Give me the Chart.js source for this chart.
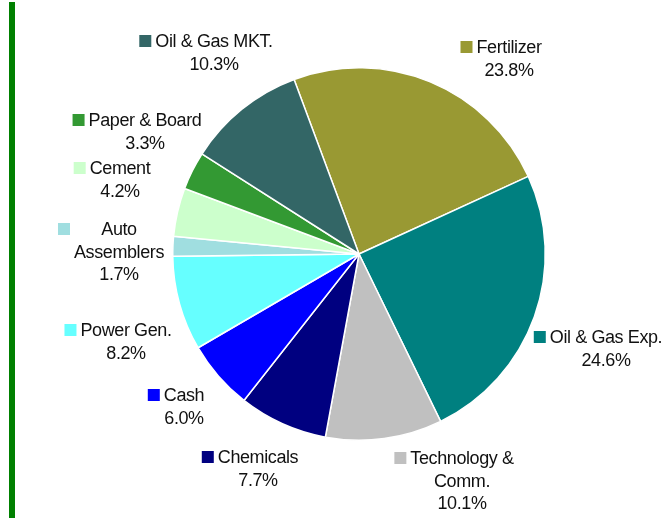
<!DOCTYPE html>
<html>
<head>
<meta charset="utf-8">
<script src="https://cdn.jsdelivr.net/npm/chart.js@4.4.1/dist/chart.umd.min.js"></script>
<style>
  html, body { margin: 0; padding: 0; background: #fff; }
  #wrap { position: relative; width: 664px; height: 518px; }
  #rule { position: absolute; left: 9px; top: 2px; width: 6px; bottom: 0; background: #008000; }
  canvas { position: absolute; left: 0; top: 0; }
</style>
</head>
<body>
<div id="wrap">
  <div id="rule"></div>
  <canvas id="pie" width="664" height="518"></canvas>
</div>
<script>
// Sector weights (%), clockwise from Fertilizer
const sectors = ['Fertilizer', 'Oil & Gas Exp.', 'Technology &\nComm.', 'Chemicals', 'Cash',
                 'Power Gen.', 'Auto\nAssemblers', 'Cement', 'Paper & Board', 'Oil & Gas MKT.'];
const weights = [23.8, 24.6, 10.1, 7.7, 6.0, 8.2, 1.7, 4.2, 3.3, 10.3];
const sliceColors = ['#999933', '#008080', '#C0C0C0', '#000080', '#0000FF',
                     '#66FFFF', '#A0DEE0', '#CCFFCC', '#339933', '#336666'];

// draws each label next to the pie, with a small colour square in front
const sliceLabels = {
    id: 'sliceLabels',
    afterDatasetsDraw(chart, args, opts) {
        const meta = chart.getDatasetMeta(0);
        const first = meta.data[0];
        if (!first) return;
        const ctx = chart.ctx;
        const data = chart.data.datasets[0].data;
        const colors = chart.data.datasets[0].backgroundColor;
        ctx.save();
        ctx.font = opts.font;
        ctx.letterSpacing = opts.letterSpacing;
        ctx.fillStyle = opts.color;
        ctx.textAlign = 'center';
        ctx.textBaseline = 'alphabetic';
        chart.data.labels.forEach((label, i) => {
            const off = opts.offsets[i];
            const x = first.x + off[0];
            const y = first.y + off[1];
            const lines = label.split('\n').concat([data[i].toFixed(1) + '%']);
            let maxW = 0;
            lines.forEach(l => { maxW = Math.max(maxW, ctx.measureText(l).width); });
            lines.forEach((l, k) => {
                ctx.fillText(l, x, y + k * opts.lineHeight + opts.baselineShift);
            });
            const s = opts.boxSize;
            ctx.fillStyle = colors[i];
            ctx.fillRect(x - maxW / 2 - opts.boxGap - s, y - s / 2, s, s);
            ctx.fillStyle = opts.color;
        });
        ctx.restore();
    }
};

new Chart(document.getElementById('pie'), {
    type: 'pie',
    data: {
        labels: sectors,
        datasets: [{
            data: weights,
            backgroundColor: sliceColors,
            borderColor: '#ffffff',
            borderWidth: 1.5
        }]
    },
    options: {
        responsive: false,
        animation: false,
        rotation: -20.4,
        layout: { padding: { left: 172, right: 118, top: 67, bottom: 77 } },
        plugins: {
            legend: { display: false },
            tooltip: { enabled: false },
            sliceLabels: {
                font: '18px "Liberation Sans", Arial, sans-serif',
                letterSpacing: '-0.4px',
                color: '#111111',
                lineHeight: 22.5,
                baselineShift: 6.4,
                boxSize: 12,
                boxGap: 4,
                // label position (centre of first text line) relative to the pie centre
                offsets: [[150, -207], [247, 83], [103, 204], [-101, 203], [-175, 141],
                          [-233, 76], [-240, -25], [-239, -86], [-214, -134], [-145, -213]]
            }
        }
    },
    plugins: [sliceLabels]
});
</script>
</body>
</html>
